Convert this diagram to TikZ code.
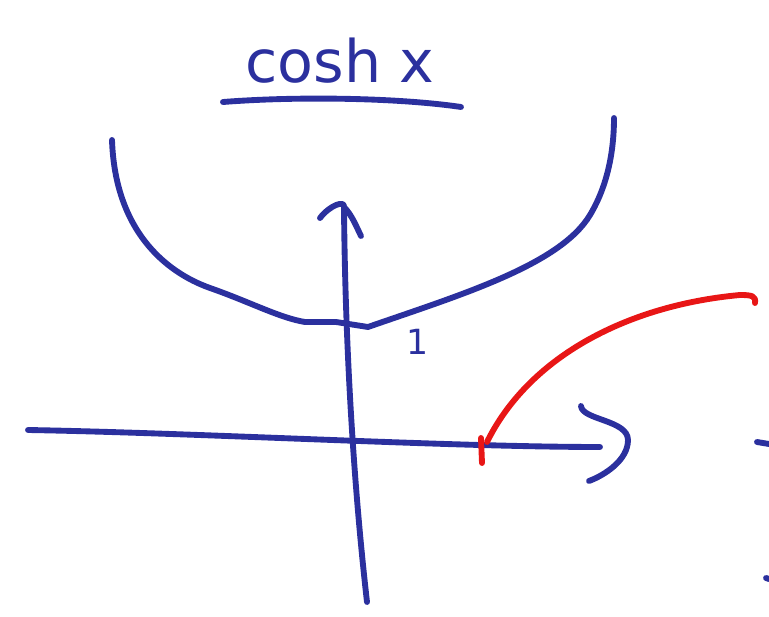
\documentclass[tikz,border=0pt]{standalone}
\usepackage{fontspec}
\setmainfont{DejaVu Sans}
\definecolor{pen}{RGB}{43,48,158}
\definecolor{redpen}{RGB}{232,22,22}
\begin{document}
\begin{tikzpicture}[x=0.75pt,y=-0.75pt,
  stroke/.style={draw=pen,line width=4.4pt,line cap=round,line join=round},
  redstroke/.style={draw=redpen,line width=4.4pt,line cap=round,line join=round},
  label/.style={text=pen,inner sep=0pt,font=\fontsize{44}{48}\selectfont}]
\useasboundingbox (0,0) rectangle (769,617);
% title
\node[label,anchor=base] (title) at (340,83) {cosh x};
\coordinate (ul1) at (223,102);
\coordinate (ul2) at (461,107);
\draw[stroke] (ul1) .. controls (300,96) and (400,98) .. (ul2);
% cosh curve
\coordinate (cl) at (112,140);
\coordinate (cb1) at (305,322);
\coordinate (cb2) at (368,327);
\coordinate (cr) at (614,118);
\draw[stroke] (cl) .. controls (115,230) and (165,272) .. (210,288)
  .. controls (250,302) and (280,318) .. (cb1) -- (336,322) -- (cb2)
  .. controls (460,295) and (560,265) .. (590,215)
  .. controls (608,185) and (614,150) .. (cr);
% vertical axis
\coordinate (vb) at (367,602);
\coordinate (vt) at (344,207);
\draw[stroke] (vb) .. controls (352,470) and (345,330) .. (vt);
\coordinate (va1) at (320,218);
\coordinate (va2) at (361,236);
\draw[stroke] (va1) .. controls (330,205) and (345,200) .. (vt) .. controls (352,215) and (357,228) .. (va2);
% horizontal axis
\coordinate (hl) at (28,430);
\coordinate (hr) at (600,447);
\draw[stroke] (hl) .. controls (200,433) and (450,447) .. (hr);
\coordinate (ha1) at (581,406);
\coordinate (ha2) at (589,481);
\draw[stroke] (ha1) .. controls (582,420) and (628,420) .. (628,440) .. controls (628,460) and (605,475) .. (ha2);
% label 1
\node[text=pen,inner sep=0pt,font=\fontsize{26}{28}\selectfont] (one) at (418,342) {1};
% red arrow
\coordinate (rs) at (755,303);
\coordinate (re) at (487,442);
\draw[redstroke] (rs) .. controls (756,296) and (752,295) .. (740,295)
  .. controls (630,305) and (530,355) .. (re);
\coordinate (rt1) at (481,438);
\coordinate (rt2) at (482,463);
\draw[redstroke] (rt1) -- (rt2);
% fragments at right edge
\coordinate (f1) at (757,442);
\coordinate (f2) at (769,444);
\draw[stroke] (f1) -- (f2);
\coordinate (f3) at (766,578);
\coordinate (f4) at (769,579);
\draw[stroke] (f3) -- (f4);
\end{tikzpicture}
\end{document}
